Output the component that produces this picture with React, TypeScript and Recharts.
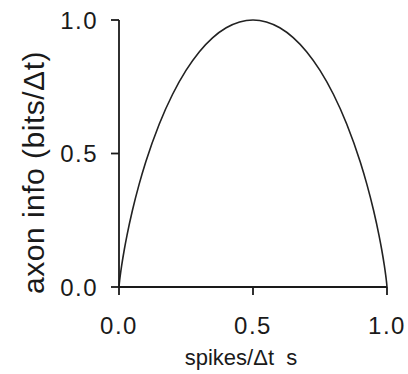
import React from "react";
import { LineChart, Line, XAxis, YAxis } from "recharts";

const spikeProb = [0, 0.001, 0.0025, 0.005, 0.01, 0.02, 0.03, 0.05, 0.075, 0.1, 0.15, 0.2, 0.25, 0.3, 0.35, 0.4, 0.45, 0.5, 0.55, 0.6, 0.65, 0.7, 0.75, 0.8, 0.85, 0.9, 0.925, 0.95, 0.97, 0.98, 0.99, 0.995, 0.9975, 0.999, 1];
const axonInfo = [0, 0.0114, 0.0252, 0.0454, 0.0808, 0.1414, 0.1944, 0.2864, 0.3843, 0.469, 0.6098, 0.7219, 0.8113, 0.8813, 0.9341, 0.971, 0.9928, 1.0, 0.9928, 0.971, 0.9341, 0.8813, 0.8113, 0.7219, 0.6098, 0.469, 0.3843, 0.2864, 0.1944, 0.1414, 0.0808, 0.0454, 0.0252, 0.0114, 0];
const xTicks = [0, 0.5, 1];
const yTicks = [0, 0.5, 1];
const xLabel = "spikes/\u0394t\u00A0\u00A0s";
const yLabel = "axon info (bits/\u0394t)";

const data = spikeProb.map((p, i) => ({ p, info: axonInfo[i] }));

const FONT = "'Liberation Sans', Arial, Helvetica, sans-serif";
const INK = "#1a1a1a";

const XLabel = (props: any) => {
  const vb = props.viewBox || {};
  return (
    <text
      x={vb.x + vb.width / 2 - 12}
      y={vb.y + vb.height - 9}
      textAnchor="middle"
      fontFamily={FONT}
      fontSize={22}
      fill={INK}
    >
      {xLabel}
    </text>
  );
};

const YLabel = (props: any) => {
  const vb = props.viewBox || {};
  const x = vb.x + 44;
  const y = vb.y + vb.height / 2 + 19;
  return (
    <text
      x={x}
      y={y}
      transform={`rotate(-90, ${x}, ${y})`}
      textAnchor="middle"
      fontFamily={FONT}
      fontSize={30}
      letterSpacing={0.5}
      fill={INK}
    >
      {yLabel}
    </text>
  );
};

const tickStyle = { fontFamily: FONT, fontSize: 24, fill: INK, letterSpacing: 1.5 };

export default function App() {
  return (
    <div style={{ position: "absolute", left: 0, top: 0, background: "#fff" }}>
      <LineChart
        width={408}
        height={374}
        data={data}
        margin={{ top: 20, right: 21, left: 0, bottom: 0 }}
      >
        <XAxis
          dataKey="p"
          type="number"
          domain={[0, 1]}
          ticks={xTicks}
          tickFormatter={(v: number) => v.toFixed(1)}
          height={87}
          tickSize={8}
          tickMargin={22}
          axisLine={{ stroke: INK, strokeWidth: 1.8 }}
          tickLine={{ stroke: INK, strokeWidth: 1.8 }}
          tick={tickStyle}
          label={<XLabel />}
        />
        <YAxis
          type="number"
          domain={[0, 1]}
          ticks={yTicks}
          tickFormatter={(v: number) => v.toFixed(1)}
          width={119}
          tickSize={8}
          tickMargin={13}
          axisLine={{ stroke: INK, strokeWidth: 1.8 }}
          tickLine={{ stroke: INK, strokeWidth: 1.8 }}
          tick={tickStyle}
          label={<YLabel />}
        />
        <Line
          dataKey="info"
          type="monotone"
          stroke="#222"
          strokeWidth={1.6}
          dot={false}
          isAnimationActive={false}
        />
      </LineChart>
    </div>
  );
}
